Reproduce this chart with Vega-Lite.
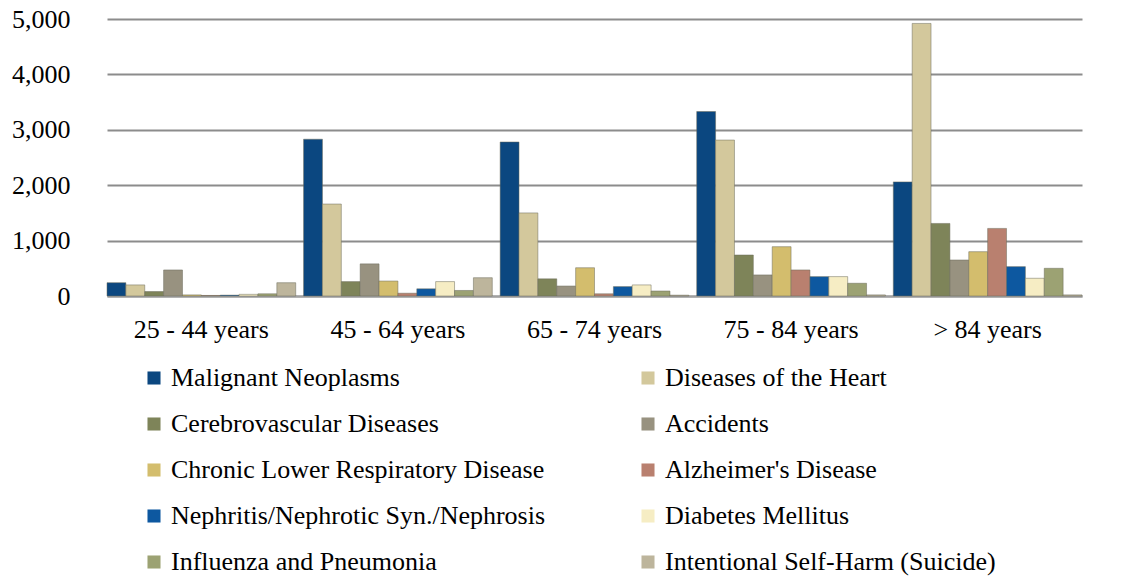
{
  "$schema": "https://vega.github.io/schema/vega-lite/v6.json",
  "width": 1045,
  "height": 277,
  "autosize": {"type": "none"},
  "padding": {"left": 95, "top": 19, "right": 3, "bottom": 281},
  "background": "white",
  "config": {
    "font": "Liberation Serif, Times New Roman, serif",
    "view": {"stroke": null}
  },
  "data": {
    "values": [
      {"age": "25 - 44 years", "cause": "Malignant Neoplasms", "deaths": 240},
      {"age": "25 - 44 years", "cause": "Diseases of the Heart", "deaths": 200},
      {"age": "25 - 44 years", "cause": "Cerebrovascular Diseases", "deaths": 80},
      {"age": "25 - 44 years", "cause": "Accidents", "deaths": 470},
      {"age": "25 - 44 years", "cause": "Chronic Lower Respiratory Disease", "deaths": 20},
      {"age": "25 - 44 years", "cause": "Alzheimer's Disease", "deaths": 10},
      {"age": "25 - 44 years", "cause": "Nephritis/Nephrotic Syn./Nephrosis", "deaths": 15},
      {"age": "25 - 44 years", "cause": "Diabetes Mellitus", "deaths": 30},
      {"age": "25 - 44 years", "cause": "Influenza and Pneumonia", "deaths": 40},
      {"age": "25 - 44 years", "cause": "Intentional Self-Harm (Suicide)", "deaths": 240},
      {"age": "45 - 64 years", "cause": "Malignant Neoplasms", "deaths": 2830},
      {"age": "45 - 64 years", "cause": "Diseases of the Heart", "deaths": 1660},
      {"age": "45 - 64 years", "cause": "Cerebrovascular Diseases", "deaths": 260},
      {"age": "45 - 64 years", "cause": "Accidents", "deaths": 580},
      {"age": "45 - 64 years", "cause": "Chronic Lower Respiratory Disease", "deaths": 270},
      {"age": "45 - 64 years", "cause": "Alzheimer's Disease", "deaths": 50},
      {"age": "45 - 64 years", "cause": "Nephritis/Nephrotic Syn./Nephrosis", "deaths": 130},
      {"age": "45 - 64 years", "cause": "Diabetes Mellitus", "deaths": 260},
      {"age": "45 - 64 years", "cause": "Influenza and Pneumonia", "deaths": 100},
      {"age": "45 - 64 years", "cause": "Intentional Self-Harm (Suicide)", "deaths": 330},
      {"age": "65 - 74 years", "cause": "Malignant Neoplasms", "deaths": 2780},
      {"age": "65 - 74 years", "cause": "Diseases of the Heart", "deaths": 1500},
      {"age": "65 - 74 years", "cause": "Cerebrovascular Diseases", "deaths": 310},
      {"age": "65 - 74 years", "cause": "Accidents", "deaths": 180},
      {"age": "65 - 74 years", "cause": "Chronic Lower Respiratory Disease", "deaths": 510},
      {"age": "65 - 74 years", "cause": "Alzheimer's Disease", "deaths": 40},
      {"age": "65 - 74 years", "cause": "Nephritis/Nephrotic Syn./Nephrosis", "deaths": 170},
      {"age": "65 - 74 years", "cause": "Diabetes Mellitus", "deaths": 200},
      {"age": "65 - 74 years", "cause": "Influenza and Pneumonia", "deaths": 90},
      {"age": "65 - 74 years", "cause": "Intentional Self-Harm (Suicide)", "deaths": 15},
      {"age": "75 - 84 years", "cause": "Malignant Neoplasms", "deaths": 3330},
      {"age": "75 - 84 years", "cause": "Diseases of the Heart", "deaths": 2815},
      {"age": "75 - 84 years", "cause": "Cerebrovascular Diseases", "deaths": 740},
      {"age": "75 - 84 years", "cause": "Accidents", "deaths": 380},
      {"age": "75 - 84 years", "cause": "Chronic Lower Respiratory Disease", "deaths": 890},
      {"age": "75 - 84 years", "cause": "Alzheimer's Disease", "deaths": 470},
      {"age": "75 - 84 years", "cause": "Nephritis/Nephrotic Syn./Nephrosis", "deaths": 350},
      {"age": "75 - 84 years", "cause": "Diabetes Mellitus", "deaths": 350},
      {"age": "75 - 84 years", "cause": "Influenza and Pneumonia", "deaths": 230},
      {"age": "75 - 84 years", "cause": "Intentional Self-Harm (Suicide)", "deaths": 20},
      {"age": "> 84 years", "cause": "Malignant Neoplasms", "deaths": 2060},
      {"age": "> 84 years", "cause": "Diseases of the Heart", "deaths": 4920},
      {"age": "> 84 years", "cause": "Cerebrovascular Diseases", "deaths": 1310},
      {"age": "> 84 years", "cause": "Accidents", "deaths": 650},
      {"age": "> 84 years", "cause": "Chronic Lower Respiratory Disease", "deaths": 800},
      {"age": "> 84 years", "cause": "Alzheimer's Disease", "deaths": 1220},
      {"age": "> 84 years", "cause": "Nephritis/Nephrotic Syn./Nephrosis", "deaths": 530},
      {"age": "> 84 years", "cause": "Diabetes Mellitus", "deaths": 320},
      {"age": "> 84 years", "cause": "Influenza and Pneumonia", "deaths": 500},
      {"age": "> 84 years", "cause": "Intentional Self-Harm (Suicide)", "deaths": 20}
    ]
  },
  "mark": {"type": "bar", "stroke": "#6b6b5a", "strokeWidth": 0.5},
  "encoding": {
    "x": {
      "field": "age",
      "type": "nominal",
      "sort": null,
      "scale": {"range": [12, 987], "paddingInner": 0.04, "paddingOuter": 0},
      "axis": {
        "title": null,
        "labelAngle": 0,
        "labelFont": "Liberation Serif, Times New Roman, serif",
        "labelFontSize": 26,
        "labelColor": "#000000",
        "labelPadding": 20,
        "ticks": false,
        "domain": true,
        "domainColor": "#a0a0a0",
        "domainWidth": 2
      }
    },
    "xOffset": {
      "field": "cause",
      "type": "nominal",
      "sort": null
    },
    "y": {
      "field": "deaths",
      "type": "quantitative",
      "scale": {"domain": [0, 5000], "nice": false},
      "axis": {
        "title": null,
        "values": [0, 1000, 2000, 3000, 4000, 5000],
        "format": ",.0f",
        "labelFont": "Liberation Serif, Times New Roman, serif",
        "labelFontSize": 26,
        "labelColor": "#000000",
        "labelPadding": 25,
        "ticks": false,
        "domain": false,
        "gridColor": "#8c8c8c",
        "gridWidth": 2
      }
    },
    "color": {
      "field": "cause",
      "type": "nominal",
      "sort": null,
      "scale": {
        "domain": ["Malignant Neoplasms", "Diseases of the Heart", "Cerebrovascular Diseases", "Accidents", "Chronic Lower Respiratory Disease", "Alzheimer's Disease", "Nephritis/Nephrotic Syn./Nephrosis", "Diabetes Mellitus", "Influenza and Pneumonia", "Intentional Self-Harm (Suicide)"],
        "range": ["#0b4780", "#d3c89c", "#7e8459", "#989280", "#d3bd6d", "#b9806f", "#0d58a0", "#f6edc4", "#9ca273", "#bdb59c"]
      },
      "legend": {
        "title": null,
        "orient": "none",
        "legendX": 46,
        "legendY": 346,
        "columns": 2,
        "direction": "horizontal",
        "symbolType": "square",
        "symbolSize": 170,
        "symbolStrokeWidth": 0,
        "labelFont": "Liberation Serif, Times New Roman, serif",
        "labelFontSize": 26,
        "labelColor": "#000000",
        "labelOffset": 4,
        "labelLimit": 600,
        "rowPadding": 20,
        "columnPadding": 89
      }
    }
  }
}
